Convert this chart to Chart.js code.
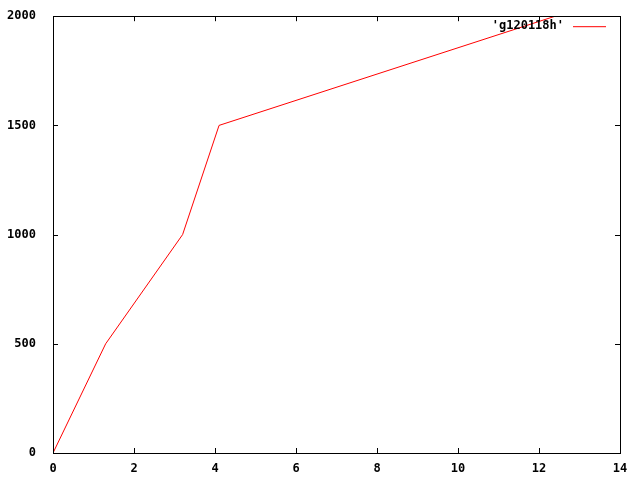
<!DOCTYPE html>
<html>
<head>
<meta charset="utf-8">
<script src="https://cdn.jsdelivr.net/npm/chart.js@4/dist/chart.umd.min.js"></script>
<style>
  html, body { margin: 0; padding: 0; background: #fff; }
  canvas { display: block; }
</style>
</head>
<body>
<canvas id="plot" width="640" height="480"></canvas>
<script>
const seriesName = "'g120118h'";
const xValues = [0, 1.3, 3.2, 4.1, 12.4];
const yValues = [0, 500, 1000, 1500, 2000];
const xTicks = [0, 2, 4, 6, 8, 10, 12, 14];
const yTicks = [0, 500, 1000, 1500, 2000];

const FONT = { family: "'DejaVu Sans Mono', 'Liberation Mono', monospace", size: 12, weight: 'bold' };

// gnuplot-style frame: border box, inward ticks mirrored on all sides, key at top right
const gnuplotFrame = {
  id: 'gnuplotFrame',
  afterDatasetsDraw(chart) {
    const { ctx, chartArea: a, scales } = chart;
    const len = 5;
    ctx.save();
    ctx.strokeStyle = '#000';
    ctx.lineWidth = 1;
    ctx.beginPath();
    xTicks.forEach((v) => {
      const px = Math.round(scales.x.getPixelForValue(v)) + 0.5;
      ctx.moveTo(px, a.bottom); ctx.lineTo(px, a.bottom - len);
      ctx.moveTo(px, a.top); ctx.lineTo(px, a.top + len);
    });
    yTicks.forEach((v) => {
      const py = Math.round(scales.y.getPixelForValue(v)) + 0.5;
      ctx.moveTo(a.left, py); ctx.lineTo(a.left + len, py);
      ctx.moveTo(a.right, py); ctx.lineTo(a.right - len, py);
    });
    ctx.stroke();
    ctx.strokeRect(Math.round(a.left) + 0.5, Math.round(a.top) + 0.5,
      Math.round(a.right - a.left), Math.round(a.bottom - a.top));

    // key
    const ds = chart.data.datasets[0];
    ctx.font = `${FONT.weight} ${FONT.size}px ${FONT.family}`;
    ctx.fillStyle = '#000';
    ctx.textAlign = 'right';
    ctx.textBaseline = 'middle';
    ctx.fillText(ds.label, a.right - 56, a.top + 10);
    ctx.strokeStyle = ds.borderColor;
    ctx.beginPath();
    ctx.moveTo(a.right - 47, a.top + 10.5);
    ctx.lineTo(a.right - 14, a.top + 10.5);
    ctx.stroke();
    ctx.restore();
  },
};

new Chart(document.getElementById('plot'), {
  type: 'line',
  data: {
    datasets: [{
      label: seriesName,
      data: xValues.map((x, i) => ({ x, y: yValues[i] })),
      borderColor: '#ff0000',
      borderWidth: 1,
      pointRadius: 0,
      tension: 0,
      fill: false,
    }],
  },
  options: {
    responsive: false,
    animation: false,
    layout: { padding: { top: 14, right: 20, left: 0, bottom: 0 } },
    plugins: {
      legend: { display: false },
      tooltip: { enabled: false },
    },
    scales: {
      x: {
        type: 'linear',
        min: 0,
        max: 14,
        afterBuildTicks: (scale) => { scale.ticks = xTicks.map((v) => ({ value: v })); },
        afterFit: (scale) => { scale.height = 27; },
        grid: { display: false },
        border: { display: false },
        ticks: { color: '#000', font: FONT, padding: 1, maxRotation: 0, callback: (v) => String(v) },
      },
      y: {
        min: 0,
        max: 2000,
        afterBuildTicks: (scale) => { scale.ticks = yTicks.map((v) => ({ value: v })); },
        afterFit: (scale) => { scale.width = 53; },
        grid: { display: false },
        border: { display: false },
        ticks: { color: '#000', font: FONT, padding: 9, callback: (v) => String(v) },
      },
    },
  },
  plugins: [gnuplotFrame],
});
</script>
</body>
</html>
